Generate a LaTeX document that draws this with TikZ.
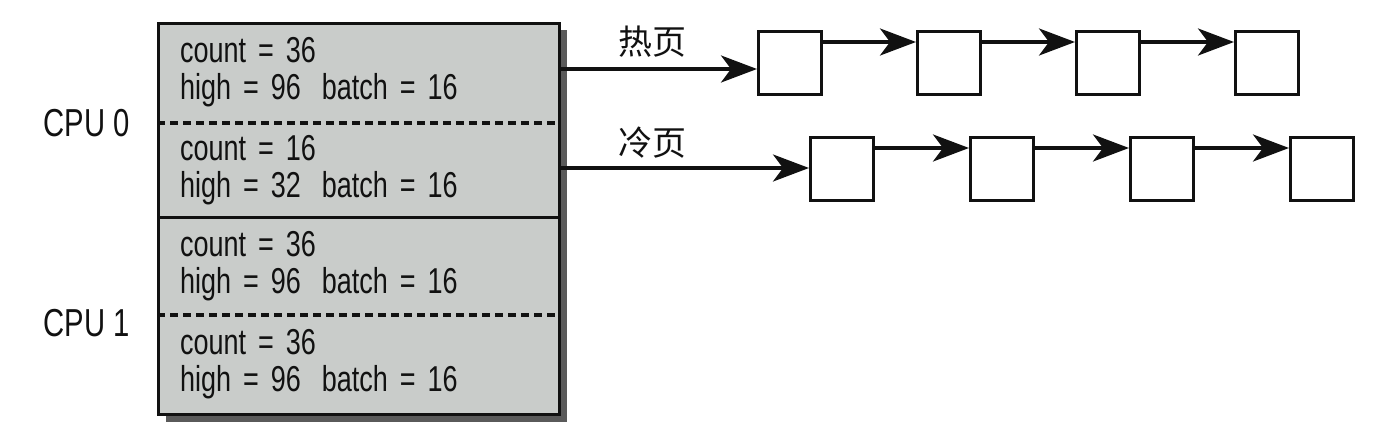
\documentclass[tikz,border=0pt]{standalone}
\usepackage{fontspec}
\setmainfont[FakeStretch=0.75]{Liberation Sans}
\newfontfamily\cjk{Noto Sans CJK SC}
\usetikzlibrary{arrows.meta, positioning, shadows}
\definecolor{panelgray}{RGB}{201,204,202}
\definecolor{shadowgray}{RGB}{90,90,90}
\definecolor{ink}{RGB}{17,17,17}

\begin{document}
\begin{tikzpicture}[x=1pt, y=-1pt, >={Stealth[length=36pt,width=27pt,inset=10pt]}, node distance=93pt,
    every node/.style={text=ink, inner sep=0pt, font=\fontsize{36}{37}\selectfont},
    panel/.style={draw=ink, fill=panelgray, line width=3pt, minimum width=401pt, minimum height=391pt, anchor=north west,
      drop shadow={shadow xshift=7pt, shadow yshift=-7pt, fill=shadowgray, opacity=1}},
    sect/.style={anchor=north west, text width=355pt, inner xsep=23pt, outer sep=0pt, align=left},
    cpulabel/.style={font=\fontsize{39}{40}\selectfont},
    page/.style={draw=ink, line width=3pt, minimum size=63pt},
    divdash/.style={draw=ink, line width=3.5pt, dash pattern=on 8pt off 5pt},
    link/.style={->, draw=ink, line width=3.5pt},
    cjklabel/.style={font=\cjk\fontsize{34}{37}\selectfont}]
    \useasboundingbox (0,0) rectangle (1374,444);

    % per-cpu block
    \node[panel] (blk) at (157,22) {};
    \node[sect, minimum height=101pt] (s1) at (blk.north west) {count = 36\\high = 96\hspace{9pt} batch = 16};
    \node[sect, minimum height=94pt, below=0pt of s1] (s2) {count = 16\\high = 32\hspace{9pt} batch = 16};
    \node[sect, minimum height=98pt, below=0pt of s2] (s3) {count = 36\\high = 96\hspace{9pt} batch = 16};
    \node[sect, minimum height=98pt, below=0pt of s3] (s4) {count = 36\\high = 96\hspace{9pt} batch = 16};

    \draw[divdash] (s1.south west) -- (s1.south east);
    \draw[draw=ink, line width=3pt] (s2.south west) -- (s2.south east);
    \draw[divdash] (s3.south west) -- (s3.south east);

    \node[cpulabel, left=27pt of s1.south west] (cpu0) {CPU 0};
    \node[cpulabel, left=27pt of s3.south west, yshift=-8pt] (cpu1) {CPU 1};

    % hot list
    \node[page, anchor=north west] (h1) at (757,30) {};
    \node[page, right=of h1] (h2) {};
    \node[page, right=of h2] (h3) {};
    \node[page, right=of h3] (h4) {};

    % cold list
    \node[page, anchor=north west] (c1) at (809,136) {};
    \node[page, right=94pt of c1] (c2) {};
    \node[page, right=94pt of c2] (c3) {};
    \node[page, right=94pt of c3] (c4) {};

    \coordinate (hot0) at (blk.east |- 0,69);
    \coordinate (cold0) at (blk.east |- 0,168);
    \node[cjklabel] (hotlbl) at (652,42) {热页};
    \node[cjklabel] (coldlbl) at (652,143) {冷页};

    \draw[link] (hot0) -- (hot0 -| h1.west);
    \draw[link] ([yshift=-12pt]h1.north east) -- ([yshift=-12pt]h2.north west);
    \draw[link] ([yshift=-12pt]h2.north east) -- ([yshift=-12pt]h3.north west);
    \draw[link] ([yshift=-12pt]h3.north east) -- ([yshift=-12pt]h4.north west);

    \draw[link] (cold0) -- (cold0 -| c1.west);
    \draw[link] ([yshift=-12pt]c1.north east) -- ([yshift=-12pt]c2.north west);
    \draw[link] ([yshift=-12pt]c2.north east) -- ([yshift=-12pt]c3.north west);
    \draw[link] ([yshift=-12pt]c3.north east) -- ([yshift=-12pt]c4.north west);
  \end{tikzpicture}
\end{document}
